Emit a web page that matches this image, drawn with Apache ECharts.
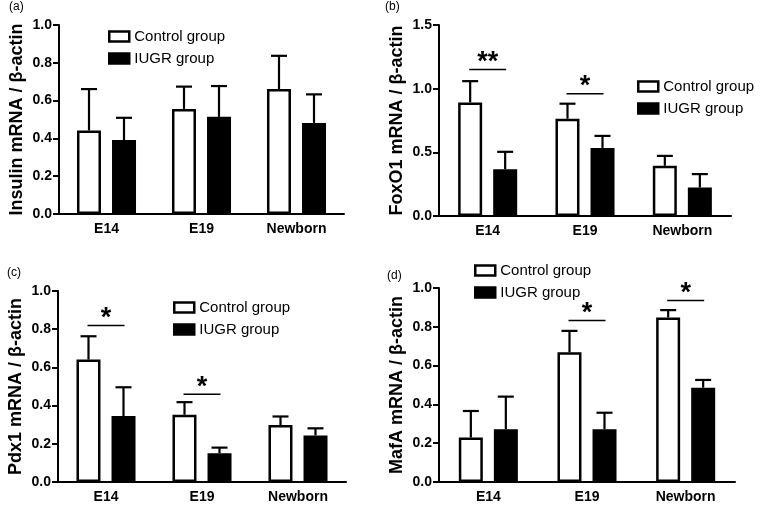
<!DOCTYPE html>
<html>
<head>
<meta charset="utf-8">
<script src="https://cdn.jsdelivr.net/npm/echarts@6/dist/echarts.min.js"></script>
<style>
  html, body { margin: 0; padding: 0; background: #fff; }
  #chart { width: 760px; height: 505px; }
</style>
</head>
<body>
<div id="chart"></div>
<script>
// categories and group names
const categories = ['E14', 'E19', 'Newborn'];
const groupNames = ['Control group', 'IUGR group'];

// (a) Insulin
const insulinControl = [0.442, 0.556, 0.661];
const insulinControlErr = [0.219, 0.118, 0.176];
const insulinIugr = [0.391, 0.514, 0.482];
const insulinIugrErr = [0.118, 0.163, 0.151];
const insulinSig = [];

// (b) FoxO1
const foxo1Control = [0.892, 0.764, 0.394];
const foxo1ControlErr = [0.167, 0.118, 0.078];
const foxo1Iugr = [0.368, 0.535, 0.224];
const foxo1IugrErr = [0.136, 0.094, 0.105];
const foxo1Sig = [[0, 1.15, '**'], [1, 0.96, '*']];

// (c) Pdx1
const pdx1Control = [0.641, 0.352, 0.298];
const pdx1ControlErr = [0.122, 0.066, 0.045];
const pdx1Iugr = [0.345, 0.151, 0.244];
const pdx1IugrErr = [0.151, 0.029, 0.037];
const pdx1Sig = [[0, 0.82, '*'], [1, 0.46, '*']];

// (d) MafA
const mafaControl = [0.229, 0.669, 0.848];
const mafaControlErr = [0.137, 0.110, 0.038];
const mafaIugr = [0.272, 0.272, 0.486];
const mafaIugrErr = [0.168, 0.085, 0.040];
const mafaSig = [[1, 0.833, '*'], [2, 0.936, '*']];

const FONT = 'Arial, "Liberation Sans", Helvetica, sans-serif';
const HALF = 17.5; // half the distance between the two bar centres

let myChart = echarts.init(document.getElementById('chart'));

const panels = [
  { name: 'Insulin mRNA / β-actin', max: 1.0, interval: 0.2,
    ctrl: insulinControl, ctrlErr: insulinControlErr, iugr: insulinIugr, iugrErr: insulinIugrErr, sig: insulinSig,
    grid: { left: 59, top: 25, width: 285, height: 189 }, legend: { left: 103, top: 23 } },
  { name: 'FoxO1 mRNA / β-actin', max: 1.5, interval: 0.5,
    ctrl: foxo1Control, ctrlErr: foxo1ControlErr, iugr: foxo1Iugr, iugrErr: foxo1IugrErr, sig: foxo1Sig,
    grid: { left: 439, top: 25, width: 292, height: 191 }, legend: { left: 632, top: 73 } },
  { name: 'Pdx1 mRNA / β-actin', max: 1.0, interval: 0.2,
    ctrl: pdx1Control, ctrlErr: pdx1ControlErr, iugr: pdx1Iugr, iugrErr: pdx1IugrErr, sig: pdx1Sig,
    grid: { left: 58, top: 291, width: 288, height: 191 }, legend: { left: 168, top: 294 } },
  { name: 'MafA mRNA / β-actin', max: 1.0, interval: 0.2,
    ctrl: mafaControl, ctrlErr: mafaControlErr, iugr: mafaIugr, iugrErr: mafaIugrErr, sig: mafaSig,
    grid: { left: 439, top: 288, width: 296, height: 194 }, legend: { left: 469, top: 257 } }
];

const grids = [], xAxes = [], yAxes = [], series = [], legends = [];

function errorSeries(i, means, errs, side) {
  return {
    type: 'custom',
    xAxisIndex: i, yAxisIndex: i,
    z: 1,
    silent: true,
    data: means.map((m, k) => [k, m, m + errs[k]]),
    renderItem: function (params, api) {
      const lo = api.coord([api.value(0), api.value(1)]);
      const hi = api.coord([api.value(0), api.value(2)]);
      const x = lo[0] + side * HALF;
      const st = { stroke: '#000', lineWidth: 2.2 };
      return {
        type: 'group',
        children: [
          { type: 'line', shape: { x1: x, y1: lo[1], x2: x, y2: hi[1] }, style: st },
          { type: 'line', shape: { x1: x - 8, y1: hi[1], x2: x + 8, y2: hi[1] }, style: st }
        ]
      };
    }
  };
}

panels.forEach(function (p, i) {
  grids.push(Object.assign({ containLabel: false }, p.grid));
  xAxes.push({
    type: 'category', gridIndex: i, data: categories,
    axisLine: { lineStyle: { color: '#000', width: 2 } },
    axisTick: { alignWithLabel: true, length: 5, lineStyle: { color: '#000', width: 2 } },
    axisLabel: { color: '#000', fontFamily: FONT, fontWeight: 'bold', fontSize: 14, margin: 8 }
  });
  yAxes.push({
    type: 'value', gridIndex: i, min: 0, max: p.max, interval: p.interval,
    name: p.name, nameLocation: 'middle', nameGap: 33,
    nameTextStyle: { color: '#000', fontFamily: FONT, fontWeight: 'bold', fontSize: 18 },
    axisLine: { show: true, lineStyle: { color: '#000', width: 2 } },
    axisTick: { show: true, length: 6, lineStyle: { color: '#000', width: 2 } },
    axisLabel: { color: '#000', fontFamily: FONT, fontWeight: 'bold', fontSize: 14, margin: 7,
      formatter: function (v) { return v.toFixed(1); } },
    splitLine: { show: false }
  });
  series.push({
    name: groupNames[0], type: 'bar', xAxisIndex: i, yAxisIndex: i,
    barWidth: 24, barGap: '46%', z: 2,
    itemStyle: { color: '#fff', borderColor: '#000', borderWidth: 2.5 },
    data: p.ctrl
  });
  series.push({
    name: groupNames[1], type: 'bar', xAxisIndex: i, yAxisIndex: i,
    barWidth: 24, barGap: '46%', z: 2,
    itemStyle: { color: '#000', borderColor: '#000', borderWidth: 2.5 },
    data: p.iugr
  });
  series.push(errorSeries(i, p.ctrl, p.ctrlErr, -1));
  series.push(errorSeries(i, p.iugr, p.iugrErr, 1));
  // significance bars with stars
  series.push({
    type: 'custom', xAxisIndex: i, yAxisIndex: i, z: 3, silent: true,
    data: p.sig,
    renderItem: function (params, api) {
      const c = api.coord([api.value(0), api.value(1)]);
      const label = p.sig[params.dataIndex][2];
      return {
        type: 'group',
        children: [
          { type: 'line', shape: { x1: c[0] - HALF - 1, y1: c[1], x2: c[0] + HALF + 1, y2: c[1] },
            style: { stroke: '#000', lineWidth: 1.5 } },
          { type: 'text', x: c[0], y: c[1] - 7,
            style: { text: label, fill: '#000', font: 'bold 27px ' + FONT, align: 'center', verticalAlign: 'middle' } }
        ]
      };
    }
  });
  legends.push({
    left: p.legend.left, top: p.legend.top, orient: 'vertical',
    data: groupNames.map(n => ({ name: n, icon: 'rect' })),
    itemWidth: 20, itemHeight: 10, itemGap: 5, itemTextGap: 10,
    selectedMode: false,
    itemStyle: { borderColor: '#000', borderWidth: 2.5 },
    textStyle: { color: '#000', fontFamily: FONT, fontSize: 15, lineHeight: 17 }
  });
});

myChart.setOption({
  backgroundColor: '#fff',
  animation: false,
  grid: grids,
  xAxis: xAxes,
  yAxis: yAxes,
  legend: legends,
  series: series,
  graphic: [
    { type: 'text', left: 9, top: 1, style: { text: '(a)', font: '12px ' + FONT, fill: '#000' } },
    { type: 'text', left: 385, top: 1, style: { text: '(b)', font: '12px ' + FONT, fill: '#000' } },
    { type: 'text', left: 7, top: 267, style: { text: '(c)', font: '12px ' + FONT, fill: '#000' } },
    { type: 'text', left: 387, top: 270, style: { text: '(d)', font: '12px ' + FONT, fill: '#000' } }
  ]
});
</script>
</body>
</html>
